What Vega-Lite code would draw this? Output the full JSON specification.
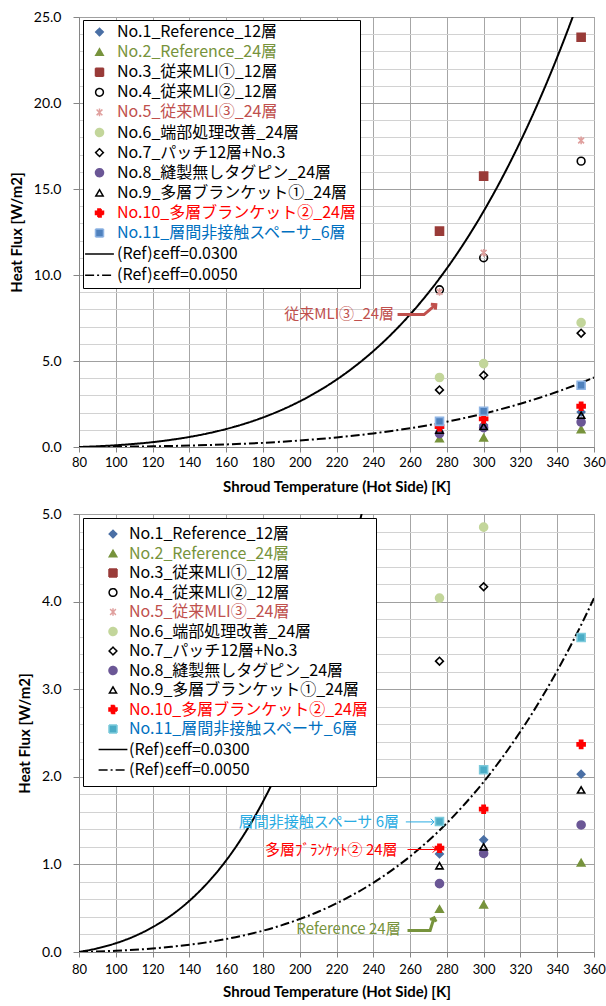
{
  "$schema": "https://vega.github.io/schema/vega-lite/v6.json",
  "padding": {"left": 8, "top": 9, "right": 4, "bottom": 2},
  "spacing": 11,
  "config": {
    "view": {"stroke": "#868686", "strokeWidth": 1},
    "axis": {
      "labelFont": "Lato", "labelFontSize": 14, "labelColor": "#000000", "labelOverlap": false, "labelFlush": false,
      "titleFont": "Lato", "titleFontSize": 15, "titleFontWeight": "bold", "titleColor": "#000000",
      "domainColor": "#868686", "tickColor": "#868686", "tickSize": 6
    },
    "legend": {"direction": "vertical", "columns": 1}
  },
  "datasets": {
    "pts": [
      {"s": "No.1_Reference_12層", "T": 276, "q": 1.12}, {"s": "No.1_Reference_12層", "T": 300, "q": 1.28}, {"s": "No.1_Reference_12層", "T": 353, "q": 2.03},
      {"s": "No.2_Reference_24層", "T": 276, "q": 0.49}, {"s": "No.2_Reference_24層", "T": 300, "q": 0.54}, {"s": "No.2_Reference_24層", "T": 353, "q": 1.02},
      {"s": "No.3_従来MLI①_12層", "T": 276, "q": 12.55}, {"s": "No.3_従来MLI①_12層", "T": 300, "q": 15.75}, {"s": "No.3_従来MLI①_12層", "T": 353, "q": 23.82},
      {"s": "No.4_従来MLI②_12層", "T": 276, "q": 9.14}, {"s": "No.4_従来MLI②_12層", "T": 300, "q": 11.0}, {"s": "No.4_従来MLI②_12層", "T": 353, "q": 16.62},
      {"s": "No.5_従来MLI③_24層", "T": 276, "q": 9.02}, {"s": "No.5_従来MLI③_24層", "T": 300, "q": 11.29}, {"s": "No.5_従来MLI③_24層", "T": 353, "q": 17.82},
      {"s": "No.6_端部処理改善_24層", "T": 276, "q": 4.04}, {"s": "No.6_端部処理改善_24層", "T": 300, "q": 4.85}, {"s": "No.6_端部処理改善_24層", "T": 353, "q": 7.23},
      {"s": "No.7_パッチ12層+No.3", "T": 276, "q": 3.32}, {"s": "No.7_パッチ12層+No.3", "T": 300, "q": 4.17}, {"s": "No.7_パッチ12層+No.3", "T": 353, "q": 6.62},
      {"s": "No.8_縫製無しタグピン_24層", "T": 276, "q": 0.78}, {"s": "No.8_縫製無しタグピン_24層", "T": 300, "q": 1.125}, {"s": "No.8_縫製無しタグピン_24層", "T": 353, "q": 1.45},
      {"s": "No.9_多層ブランケット①_24層", "T": 276, "q": 0.985}, {"s": "No.9_多層ブランケット①_24層", "T": 300, "q": 1.2}, {"s": "No.9_多層ブランケット①_24層", "T": 353, "q": 1.85},
      {"s": "No.10_多層ブランケット②_24層", "T": 276, "q": 1.185}, {"s": "No.10_多層ブランケット②_24層", "T": 300, "q": 1.63}, {"s": "No.10_多層ブランケット②_24層", "T": 353, "q": 2.37},
      {"s": "No.11_層間非接触スペーサ_6層", "T": 276, "q": 1.49}, {"s": "No.11_層間非接触スペーサ_6層", "T": 300, "q": 2.08}, {"s": "No.11_層間非接触スペーサ_6層", "T": 353, "q": 3.59}
    ],
    "curves": [
      {"s": "(Ref)εeff=0.0300", "T": 80, "q": 0}, {"s": "(Ref)εeff=0.0300", "T": 90, "q": 0.042}, {"s": "(Ref)εeff=0.0300", "T": 100, "q": 0.100},
      {"s": "(Ref)εeff=0.0300", "T": 110, "q": 0.179}, {"s": "(Ref)εeff=0.0300", "T": 120, "q": 0.283}, {"s": "(Ref)εeff=0.0300", "T": 130, "q": 0.416},
      {"s": "(Ref)εeff=0.0300", "T": 140, "q": 0.584}, {"s": "(Ref)εeff=0.0300", "T": 150, "q": 0.792}, {"s": "(Ref)εeff=0.0300", "T": 160, "q": 1.045},
      {"s": "(Ref)εeff=0.0300", "T": 170, "q": 1.351}, {"s": "(Ref)εeff=0.0300", "T": 180, "q": 1.716}, {"s": "(Ref)εeff=0.0300", "T": 190, "q": 2.147},
      {"s": "(Ref)εeff=0.0300", "T": 200, "q": 2.652}, {"s": "(Ref)εeff=0.0300", "T": 210, "q": 3.238}, {"s": "(Ref)εeff=0.0300", "T": 220, "q": 3.915},
      {"s": "(Ref)εeff=0.0300", "T": 230, "q": 4.690}, {"s": "(Ref)εeff=0.0300", "T": 240, "q": 5.574}, {"s": "(Ref)εeff=0.0300", "T": 250, "q": 6.575},
      {"s": "(Ref)εeff=0.0300", "T": 260, "q": 7.704}, {"s": "(Ref)εeff=0.0300", "T": 270, "q": 8.970}, {"s": "(Ref)εeff=0.0300", "T": 280, "q": 10.386},
      {"s": "(Ref)εeff=0.0300", "T": 290, "q": 11.961}, {"s": "(Ref)εeff=0.0300", "T": 300, "q": 13.708}, {"s": "(Ref)εeff=0.0300", "T": 310, "q": 15.639},
      {"s": "(Ref)εeff=0.0300", "T": 320, "q": 17.767}, {"s": "(Ref)εeff=0.0300", "T": 330, "q": 20.103}, {"s": "(Ref)εeff=0.0300", "T": 340, "q": 22.661},
      {"s": "(Ref)εeff=0.0300", "T": 345, "q": 24.03}, {"s": "(Ref)εeff=0.0300", "T": 350, "q": 25.456},
      {"s": "(Ref)εeff=0.0050", "T": 80, "q": 0}, {"s": "(Ref)εeff=0.0050", "T": 90, "q": 0.006}, {"s": "(Ref)εeff=0.0050", "T": 100, "q": 0.014},
      {"s": "(Ref)εeff=0.0050", "T": 110, "q": 0.025}, {"s": "(Ref)εeff=0.0050", "T": 120, "q": 0.040}, {"s": "(Ref)εeff=0.0050", "T": 130, "q": 0.059},
      {"s": "(Ref)εeff=0.0050", "T": 140, "q": 0.083}, {"s": "(Ref)εeff=0.0050", "T": 150, "q": 0.112}, {"s": "(Ref)εeff=0.0050", "T": 160, "q": 0.148},
      {"s": "(Ref)εeff=0.0050", "T": 170, "q": 0.191}, {"s": "(Ref)εeff=0.0050", "T": 180, "q": 0.243}, {"s": "(Ref)εeff=0.0050", "T": 190, "q": 0.304},
      {"s": "(Ref)εeff=0.0050", "T": 200, "q": 0.376}, {"s": "(Ref)εeff=0.0050", "T": 210, "q": 0.459}, {"s": "(Ref)εeff=0.0050", "T": 220, "q": 0.555},
      {"s": "(Ref)εeff=0.0050", "T": 230, "q": 0.665}, {"s": "(Ref)εeff=0.0050", "T": 240, "q": 0.790}, {"s": "(Ref)εeff=0.0050", "T": 250, "q": 0.932},
      {"s": "(Ref)εeff=0.0050", "T": 260, "q": 1.091}, {"s": "(Ref)εeff=0.0050", "T": 270, "q": 1.271}, {"s": "(Ref)εeff=0.0050", "T": 280, "q": 1.471},
      {"s": "(Ref)εeff=0.0050", "T": 290, "q": 1.695}, {"s": "(Ref)εeff=0.0050", "T": 300, "q": 1.942}, {"s": "(Ref)εeff=0.0050", "T": 310, "q": 2.216},
      {"s": "(Ref)εeff=0.0050", "T": 320, "q": 2.517}, {"s": "(Ref)εeff=0.0050", "T": 330, "q": 2.848}, {"s": "(Ref)εeff=0.0050", "T": 340, "q": 3.211},
      {"s": "(Ref)εeff=0.0050", "T": 350, "q": 3.607}, {"s": "(Ref)εeff=0.0050", "T": 360, "q": 4.038}
    ],
    "notes": [
      {"note": "mli3", "part": "label", "T": 251.3, "q": 7.73, "label": "従来MLI③_24層"},
      {"note": "mli3", "part": "arrow", "ord": 1, "T": 253.2, "q": 7.70},
      {"note": "mli3", "part": "arrow", "ord": 2, "T": 267.6, "q": 7.70},
      {"note": "mli3", "part": "arrow", "ord": 3, "T": 274.0, "q": 8.28},
      {"note": "mli3", "part": "head", "T": 274.0, "q": 8.28},
      {"note": "spacer", "part": "label", "T": 254.0, "q": 1.485, "label": "層間非接触スペーサ 6層"},
      {"note": "spacer", "part": "arrow", "ord": 1, "T": 257.7, "q": 1.485},
      {"note": "spacer", "part": "arrow", "ord": 2, "T": 273.0, "q": 1.485},
      {"note": "spacer", "part": "head", "T": 273.0, "q": 1.485},
      {"note": "blanket", "part": "label", "T": 253.2, "q": 1.17, "label": "多層ﾌﾞﾗﾝｹｯﾄ② 24層"},
      {"note": "blanket", "part": "arrow", "ord": 1, "T": 258.6, "q": 1.17},
      {"note": "blanket", "part": "arrow", "ord": 2, "T": 274.0, "q": 1.17},
      {"note": "blanket", "part": "head", "T": 274.0, "q": 1.17},
      {"note": "ref24", "part": "label", "T": 254.9, "q": 0.266, "label": "Reference 24層"},
      {"note": "ref24", "part": "arrow", "ord": 1, "T": 258.6, "q": 0.246},
      {"note": "ref24", "part": "arrow", "ord": 2, "T": 270.9, "q": 0.246},
      {"note": "ref24", "part": "arrow", "ord": 3, "T": 273.05, "q": 0.391},
      {"note": "ref24", "part": "head", "T": 273.05, "q": 0.391}
    ]
  },
  "resolve": {
    "scale": {"y": "independent", "fill": "independent", "stroke": "independent", "shape": "independent", "strokeDash": "independent", "size": "independent"}
  },
  "vconcat": [
    {
      "width": 515,
      "height": 430,
      "layer": [
        {
          "data": {"name": "curves"},
          "mark": {"type": "line", "clip": true, "interpolate": "monotone"},
          "encoding": {
            "x": {"field": "T", "type": "quantitative", "scale": {"domain": [80, 360], "nice": false, "zero": false},
              "axis": {"title": "Shroud Temperature (Hot Side) [K]", "values": [80,100,120,140,160,180,200,220,240,260,280,300,320,340,360], "tickCount": 100, "labelOverlap": false, "labelFlush": false, "gridColor": "#a6a6a6", "labelFontSize": 13, "tickSize": 5, "labelPadding": 4, "titlePadding": 10}},
            "y": {"field": "q", "type": "quantitative", "scale": {"domain": [0, 25], "nice": false},
              "axis": {"title": "Heat Flux [W/m2]", "values": [0,1,2,3,4,5,6,7,8,9,10,11,12,13,14,15,16,17,18,19,20,21,22,23,24,25], "tickCount": 100, "labelOverlap": false, "labelFlush": false,
                "labelExpr": "datum.value % 5 === 0 ? format(datum.value, '.1f') : ''",
                "gridColor": {"condition": {"test": "datum.value % 5 === 0", "value": "#a0a0a0"}, "value": "#d2d2d2"},
                "tickColor": {"condition": {"test": "datum.value % 5 === 0", "value": "#868686"}, "value": "transparent"},
                "labelPadding": 12, "titlePadding": 9}},
            "stroke": {"field": "s", "type": "nominal",
              "scale": {"domain": ["No.1_Reference_12層","No.2_Reference_24層","No.3_従来MLI①_12層","No.4_従来MLI②_12層","No.5_従来MLI③_24層","No.6_端部処理改善_24層","No.7_パッチ12層+No.3","No.8_縫製無しタグピン_24層","No.9_多層ブランケット①_24層","No.10_多層ブランケット②_24層","No.11_層間非接触スペーサ_6層","(Ref)εeff=0.0300","(Ref)εeff=0.0050"],
                "range": ["#4a6fa5","#77933c","#993b38","#000000","#e0a09e","#c3d69b","#000000","#6b5796","#000000","#ff0000","#8eb4e3","#000000","#000000"]},
              "legend": {"title": null, "orient": "none", "direction": "vertical", "columns": 1, "legendX": 4, "legendY": 3, "fillColor": "#ffffff", "strokeColor": "#000000", "padding": 4, "symbolOffset": 3.5, "labelFont": "Noto Sans CJK JP", "labelFontSize": 16, "labelOffset": 8.5, "rowPadding": 4.1, "labelLimit": 500,
                "encode": {
                  "labels": {"update": {"fill": {"signal": "datum.value === 'No.2_Reference_24層' ? '#77933c' : datum.value === 'No.5_従来MLI③_24層' ? '#c0504d' : datum.value === 'No.10_多層ブランケット②_24層' ? '#ff0000' : datum.value === 'No.11_層間非接触スペーサ_6層' ? '#0070c0' : '#000000'"}}}}}},
            "strokeDash": {"field": "s", "type": "nominal",
              "scale": {"domain": ["No.1_Reference_12層","No.2_Reference_24層","No.3_従来MLI①_12層","No.4_従来MLI②_12層","No.5_従来MLI③_24層","No.6_端部処理改善_24層","No.7_パッチ12層+No.3","No.8_縫製無しタグピン_24層","No.9_多層ブランケット①_24層","No.10_多層ブランケット②_24層","No.11_層間非接触スペーサ_6層","(Ref)εeff=0.0300","(Ref)εeff=0.0050"],
                "range": [[1,0],[1,0],[1,0],[1,0],[1,0],[1,0],[1,0],[1,0],[1,0],[1,0],[1,0],[1,0],[9,3,2,3]]}}
          }
        },
        {
          "data": {"name": "pts"},
          "mark": {"type": "point", "opacity": 1, "clip": true, "strokeWidth": 1.6},
          "encoding": {
            "x": {"field": "T", "type": "quantitative"},
            "y": {"field": "q", "type": "quantitative"},
            "fill": {"field": "s", "type": "nominal",
              "scale": {"domain": ["No.1_Reference_12層","No.2_Reference_24層","No.3_従来MLI①_12層","No.4_従来MLI②_12層","No.5_従来MLI③_24層","No.6_端部処理改善_24層","No.7_パッチ12層+No.3","No.8_縫製無しタグピン_24層","No.9_多層ブランケット①_24層","No.10_多層ブランケット②_24層","No.11_層間非接触スペーサ_6層","(Ref)εeff=0.0300","(Ref)εeff=0.0050"],
                "range": ["#4a6fa5","#77933c","#993b38","transparent","transparent","#c3d69b","transparent","#6b5796","transparent","#ff0000","#4f81bd","transparent","transparent"]}},
            "stroke": {"field": "s", "type": "nominal"},
            "size": {"field": "s", "type": "nominal",
              "scale": {"type": "ordinal", "domain": ["No.1_Reference_12層","No.2_Reference_24層","No.3_従来MLI①_12層","No.4_従来MLI②_12層","No.5_従来MLI③_24層","No.6_端部処理改善_24層","No.7_パッチ12層+No.3","No.8_縫製無しタグピン_24層","No.9_多層ブランケット①_24層","No.10_多層ブランケット②_24層","No.11_層間非接触スペーサ_6層","(Ref)εeff=0.0300","(Ref)εeff=0.0050"],
                "range": [56,56,64,60,60,64,60,64,52,64,64,256,256]}},
            "shape": {"field": "s", "type": "nominal",
              "scale": {"domain": ["No.1_Reference_12層","No.2_Reference_24層","No.3_従来MLI①_12層","No.4_従来MLI②_12層","No.5_従来MLI③_24層","No.6_端部処理改善_24層","No.7_パッチ12層+No.3","No.8_縫製無しタグピン_24層","No.9_多層ブランケット①_24層","No.10_多層ブランケット②_24層","No.11_層間非接触スペーサ_6層","(Ref)εeff=0.0300","(Ref)εeff=0.0050"],
                "range": ["diamond","triangle-up","square","circle","M-0.75,-0.75L0.75,0.75M-0.75,0.75L0.75,-0.75M0,-1L0,1","circle","diamond","circle","triangle-up","cross","square","M-1.8,0L1.8,0","M-1.8,0L1.8,0"]}}
          }
        },
        {
          "data": {"name": "notes"},
          "transform": [{"filter": "datum.note === 'mli3'"}],
          "layer": [
            {"transform": [{"filter": "datum.part === 'label'"}],
             "mark": {"type": "text", "align": "right", "baseline": "middle", "color": "#c0504d", "font": "Noto Sans CJK JP", "fontSize": 15},
             "encoding": {"x": {"field": "T", "type": "quantitative"}, "y": {"field": "q", "type": "quantitative"}, "text": {"field": "label"}}},
            {"transform": [{"filter": "datum.part === 'arrow'"}],
             "mark": {"type": "line", "color": "#c0504d", "strokeWidth": 3},
             "encoding": {"x": {"field": "T", "type": "quantitative"}, "y": {"field": "q", "type": "quantitative"}, "order": {"field": "ord", "type": "quantitative"}}},
            {"transform": [{"filter": "datum.part === 'head'"}],
             "mark": {"type": "point", "shape": "M-1,-1L0,0L-1,1", "filled": false, "opacity": 1, "color": "#c0504d", "strokeWidth": 3, "size": 50, "angle": -40},
             "encoding": {"x": {"field": "T", "type": "quantitative"}, "y": {"field": "q", "type": "quantitative"}}}
          ]
        }
      ]
    },
    {
      "width": 515,
      "height": 438,
      "layer": [
        {
          "data": {"name": "curves"},
          "mark": {"type": "line", "clip": true, "interpolate": "monotone"},
          "encoding": {
            "x": {"field": "T", "type": "quantitative", "scale": {"domain": [80, 360], "nice": false, "zero": false},
              "axis": {"title": "Shroud Temperature (Hot Side) [K]", "values": [80,100,120,140,160,180,200,220,240,260,280,300,320,340,360], "tickCount": 100, "labelOverlap": false, "labelFlush": false, "gridColor": "#a6a6a6", "labelFontSize": 13, "tickSize": 5, "labelPadding": 6, "titlePadding": 8}},
            "y": {"field": "q", "type": "quantitative", "scale": {"domain": [0, 5], "nice": false},
              "axis": {"title": "Heat Flux [W/m2]", "values": [0,0.2,0.4,0.6,0.8,1,1.2,1.4,1.6,1.8,2,2.2,2.4,2.6,2.8,3,3.2,3.4,3.6,3.8,4,4.2,4.4,4.6,4.8,5], "tickCount": 100, "labelOverlap": false, "labelFlush": false,
                "labelExpr": "abs(datum.value - round(datum.value)) < 0.001 ? format(datum.value, '.1f') : ''",
                "gridColor": {"condition": {"test": "abs(datum.value - round(datum.value)) < 0.001", "value": "#a0a0a0"}, "value": "#d2d2d2"},
                "tickColor": {"condition": {"test": "abs(datum.value - round(datum.value)) < 0.001", "value": "#868686"}, "value": "transparent"},
                "labelPadding": 12, "titlePadding": 9}},
            "stroke": {"field": "s", "type": "nominal",
              "scale": {"domain": ["No.1_Reference_12層","No.2_Reference_24層","No.3_従来MLI①_12層","No.4_従来MLI②_12層","No.5_従来MLI③_24層","No.6_端部処理改善_24層","No.7_パッチ12層+No.3","No.8_縫製無しタグピン_24層","No.9_多層ブランケット①_24層","No.10_多層ブランケット②_24層","No.11_層間非接触スペーサ_6層","(Ref)εeff=0.0300","(Ref)εeff=0.0050"],
                "range": ["#4a6fa5","#77933c","#993b38","#000000","#e0a09e","#c3d69b","#000000","#6b5796","#000000","#ff0000","#7ccadc","#000000","#000000"]},
              "legend": {"title": null, "orient": "none", "direction": "vertical", "columns": 1, "legendX": 4, "legendY": 4, "fillColor": "#ffffff", "strokeColor": "#000000", "padding": 8, "symbolOffset": 13, "labelFont": "Noto Sans CJK JP", "labelFontSize": 16, "labelOffset": 7, "rowPadding": 3.5, "labelLimit": 500,
                "encode": {
                  "labels": {"update": {"fill": {"signal": "datum.value === 'No.2_Reference_24層' ? '#77933c' : datum.value === 'No.5_従来MLI③_24層' ? '#c0504d' : datum.value === 'No.10_多層ブランケット②_24層' ? '#ff0000' : datum.value === 'No.11_層間非接触スペーサ_6層' ? '#0070c0' : '#000000'"}}}}}},
            "strokeDash": {"field": "s", "type": "nominal",
              "scale": {"domain": ["No.1_Reference_12層","No.2_Reference_24層","No.3_従来MLI①_12層","No.4_従来MLI②_12層","No.5_従来MLI③_24層","No.6_端部処理改善_24層","No.7_パッチ12層+No.3","No.8_縫製無しタグピン_24層","No.9_多層ブランケット①_24層","No.10_多層ブランケット②_24層","No.11_層間非接触スペーサ_6層","(Ref)εeff=0.0300","(Ref)εeff=0.0050"],
                "range": [[1,0],[1,0],[1,0],[1,0],[1,0],[1,0],[1,0],[1,0],[1,0],[1,0],[1,0],[1,0],[9,3,2,3]]}}
          }
        },
        {
          "data": {"name": "pts"},
          "mark": {"type": "point", "opacity": 1, "clip": true, "strokeWidth": 1.6},
          "encoding": {
            "x": {"field": "T", "type": "quantitative"},
            "y": {"field": "q", "type": "quantitative"},
            "fill": {"field": "s", "type": "nominal",
              "scale": {"domain": ["No.1_Reference_12層","No.2_Reference_24層","No.3_従来MLI①_12層","No.4_従来MLI②_12層","No.5_従来MLI③_24層","No.6_端部処理改善_24層","No.7_パッチ12層+No.3","No.8_縫製無しタグピン_24層","No.9_多層ブランケット①_24層","No.10_多層ブランケット②_24層","No.11_層間非接触スペーサ_6層","(Ref)εeff=0.0300","(Ref)εeff=0.0050"],
                "range": ["#4a6fa5","#77933c","#993b38","transparent","transparent","#c3d69b","transparent","#6b5796","transparent","#ff0000","#4bacc6","transparent","transparent"]}},
            "stroke": {"field": "s", "type": "nominal"},
            "size": {"field": "s", "type": "nominal",
              "scale": {"type": "ordinal", "domain": ["No.1_Reference_12層","No.2_Reference_24層","No.3_従来MLI①_12層","No.4_従来MLI②_12層","No.5_従来MLI③_24層","No.6_端部処理改善_24層","No.7_パッチ12層+No.3","No.8_縫製無しタグピン_24層","No.9_多層ブランケット①_24層","No.10_多層ブランケット②_24層","No.11_層間非接触スペーサ_6層","(Ref)εeff=0.0300","(Ref)εeff=0.0050"],
                "range": [56,56,64,60,60,64,60,64,52,64,64,256,256]}},
            "shape": {"field": "s", "type": "nominal",
              "scale": {"domain": ["No.1_Reference_12層","No.2_Reference_24層","No.3_従来MLI①_12層","No.4_従来MLI②_12層","No.5_従来MLI③_24層","No.6_端部処理改善_24層","No.7_パッチ12層+No.3","No.8_縫製無しタグピン_24層","No.9_多層ブランケット①_24層","No.10_多層ブランケット②_24層","No.11_層間非接触スペーサ_6層","(Ref)εeff=0.0300","(Ref)εeff=0.0050"],
                "range": ["diamond","triangle-up","square","circle","M-0.75,-0.75L0.75,0.75M-0.75,0.75L0.75,-0.75M0,-1L0,1","circle","diamond","circle","triangle-up","cross","square","M-1.8,0L1.8,0","M-1.8,0L1.8,0"]}}
          }
        },
        {
          "data": {"name": "notes"},
          "transform": [{"filter": "datum.note === 'spacer'"}],
          "layer": [
            {"transform": [{"filter": "datum.part === 'label'"}],
             "mark": {"type": "text", "align": "right", "baseline": "middle", "color": "#29abe2", "font": "Noto Sans CJK JP", "fontSize": 15},
             "encoding": {"x": {"field": "T", "type": "quantitative"}, "y": {"field": "q", "type": "quantitative"}, "text": {"field": "label"}}},
            {"transform": [{"filter": "datum.part === 'arrow'"}],
             "mark": {"type": "line", "color": "#29abe2", "strokeWidth": 1},
             "encoding": {"x": {"field": "T", "type": "quantitative"}, "y": {"field": "q", "type": "quantitative"}, "order": {"field": "ord", "type": "quantitative"}}},
            {"transform": [{"filter": "datum.part === 'head'"}],
             "mark": {"type": "point", "shape": "M-1,-1L0,0L-1,1", "filled": false, "opacity": 1, "color": "#29abe2", "strokeWidth": 1, "size": 40, "angle": 0},
             "encoding": {"x": {"field": "T", "type": "quantitative"}, "y": {"field": "q", "type": "quantitative"}}}
          ]
        },
        {
          "data": {"name": "notes"},
          "transform": [{"filter": "datum.note === 'blanket'"}],
          "layer": [
            {"transform": [{"filter": "datum.part === 'label'"}],
             "mark": {"type": "text", "align": "right", "baseline": "middle", "color": "#ff0000", "font": "Noto Sans CJK JP", "fontSize": 15},
             "encoding": {"x": {"field": "T", "type": "quantitative"}, "y": {"field": "q", "type": "quantitative"}, "text": {"field": "label"}}},
            {"transform": [{"filter": "datum.part === 'arrow'"}],
             "mark": {"type": "line", "color": "#ff0000", "strokeWidth": 1},
             "encoding": {"x": {"field": "T", "type": "quantitative"}, "y": {"field": "q", "type": "quantitative"}, "order": {"field": "ord", "type": "quantitative"}}},
            {"transform": [{"filter": "datum.part === 'head'"}],
             "mark": {"type": "point", "shape": "M-1,-1L0,0L-1,1", "filled": false, "opacity": 1, "color": "#ff0000", "strokeWidth": 1, "size": 40, "angle": 0},
             "encoding": {"x": {"field": "T", "type": "quantitative"}, "y": {"field": "q", "type": "quantitative"}}}
          ]
        },
        {
          "data": {"name": "notes"},
          "transform": [{"filter": "datum.note === 'ref24'"}],
          "layer": [
            {"transform": [{"filter": "datum.part === 'label'"}],
             "mark": {"type": "text", "align": "right", "baseline": "middle", "color": "#77933c", "font": "Noto Sans CJK JP", "fontSize": 15},
             "encoding": {"x": {"field": "T", "type": "quantitative"}, "y": {"field": "q", "type": "quantitative"}, "text": {"field": "label"}}},
            {"transform": [{"filter": "datum.part === 'arrow'"}],
             "mark": {"type": "line", "color": "#77933c", "strokeWidth": 3},
             "encoding": {"x": {"field": "T", "type": "quantitative"}, "y": {"field": "q", "type": "quantitative"}, "order": {"field": "ord", "type": "quantitative"}}},
            {"transform": [{"filter": "datum.part === 'head'"}],
             "mark": {"type": "point", "shape": "M-1,-1L0,0L-1,1", "filled": false, "opacity": 1, "color": "#77933c", "strokeWidth": 3, "size": 40, "angle": -72},
             "encoding": {"x": {"field": "T", "type": "quantitative"}, "y": {"field": "q", "type": "quantitative"}}}
          ]
        }
      ]
    }
  ]
}
